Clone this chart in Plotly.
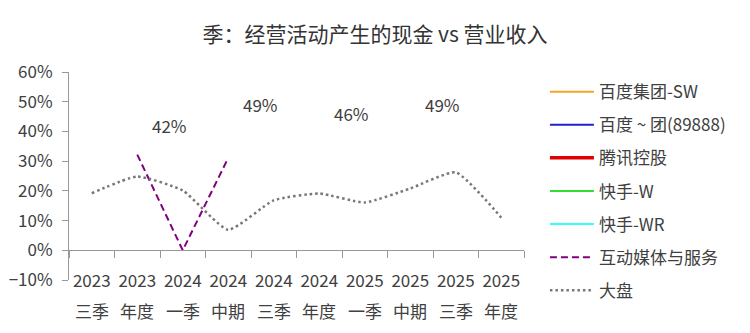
import plotly.graph_objects as go

years = ["2023", "2023", "2024", "2024", "2024", "2024", "2025", "2025", "2025", "2025"]
seasons = ["三季", "年度", "一季", "中期", "三季", "年度", "一季", "中期", "三季", "年度"]
categories = [y + s for y, s in zip(years, seasons)]

# 大盘 (%)
dapan = [19.2, 24.8, 20.1, 6.9, 16.8, 19.1, 16.1, 20.8, 26.2, 11.0]
# 互动媒体与服务 (%)
hudong = [None, 32.2, 0.0, 31.1, None, None, None, None, None, None]

# text labels
label_cats = ["2024一季", "2024三季", "2025一季", "2025三季"]
label_vals = [42, 49, 46, 49]

empty_series = [
    ("百度集团-SW", "#F5A623", 2),
    ("百度 ~ 团(89888)", "#2222CC", 2),
    ("腾讯控股", "#E00000", 3.5),
    ("快手-W", "#33DD33", 2),
    ("快手-WR", "#33FFFF", 2),
]

FONT = "Noto Sans CJK SC"
TXT = "#404040"
AX = "#999999"

fig = go.Figure()
for i, (name, color, w) in enumerate(empty_series):
    fig.add_trace(go.Scatter(
        x=categories, y=[None] * len(categories), mode="lines", name=name,
        line=dict(color=color, width=w), legendgroup=f"g{i}"))

fig.add_trace(go.Scatter(
    x=categories, y=hudong, mode="lines", name="互动媒体与服务",
    line=dict(color="#800080", width=2, dash="7px,4px"), legendgroup="g5",
    connectgaps=False))
fig.add_trace(go.Scatter(
    x=categories, y=dapan, mode="lines", name="大盘",
    line=dict(color="#777777", width=2.5, dash="2.5px,3px", shape="spline", smoothing=0.5),
    legendgroup="g6"))

annotations = []
for c, v in zip(label_cats, label_vals):
    annotations.append(dict(x=c, y=v, xref="x", yref="y", text=f"{v}%", showarrow=False,
                            xshift=-13, font=dict(family=FONT, size=17, color=TXT)))
for c, s in zip(categories, seasons):
    annotations.append(dict(x=c, y=0, xref="x", yref="paper", text=s, showarrow=False,
                            yanchor="middle", yshift=-30,
                            font=dict(family=FONT, size=17, color=TXT)))

fig.update_layout(
    width=750, height=333,
    margin=dict(l=69, r=226, t=71.5, b=53, autoexpand=False),
    paper_bgcolor="white", plot_bgcolor="white",
    font=dict(family=FONT, size=17, color=TXT),
    title=dict(text="季：经营活动产生的现金 vs 营业收入", x=0.5, xref="container", xanchor="center",
               y=1 - 35 / 333, yref="container", yanchor="middle",
               font=dict(family=FONT, size=21, color="#333333")),
    showlegend=True,
    legend=dict(x=1.046, xanchor="left", y=0.99, yanchor="top",
                font=dict(family=FONT, size=17, color=TXT), itemwidth=44,
                maxheight=400,
                traceorder="grouped", tracegroupgap=8, bgcolor="rgba(0,0,0,0)"),
    xaxis=dict(type="category", categoryarray=categories, tickvals=categories, ticktext=years,
               range=[-0.5, 9.5], anchor="free", position=1 / 7, tickangle=0,
               automargin=False,
               showline=True, linecolor=AX, linewidth=1,
               ticks="outside", tickson="boundaries", ticklen=7, tickcolor=AX,
               ticklabelstandoff=15, showgrid=False, zeroline=False,
               tickfont=dict(family=FONT, size=17, color=TXT)),
    yaxis=dict(range=[-10, 60], dtick=10, ticksuffix="%", showline=True, linecolor=AX,
               automargin=False,
               linewidth=1, ticks="outside", ticklen=6, tickcolor=AX, showgrid=False,
               ticklabelstandoff=6,
               zeroline=False, tickfont=dict(family=FONT, size=17, color=TXT)),
    annotations=annotations,
)

fig.write_html("out.html")
